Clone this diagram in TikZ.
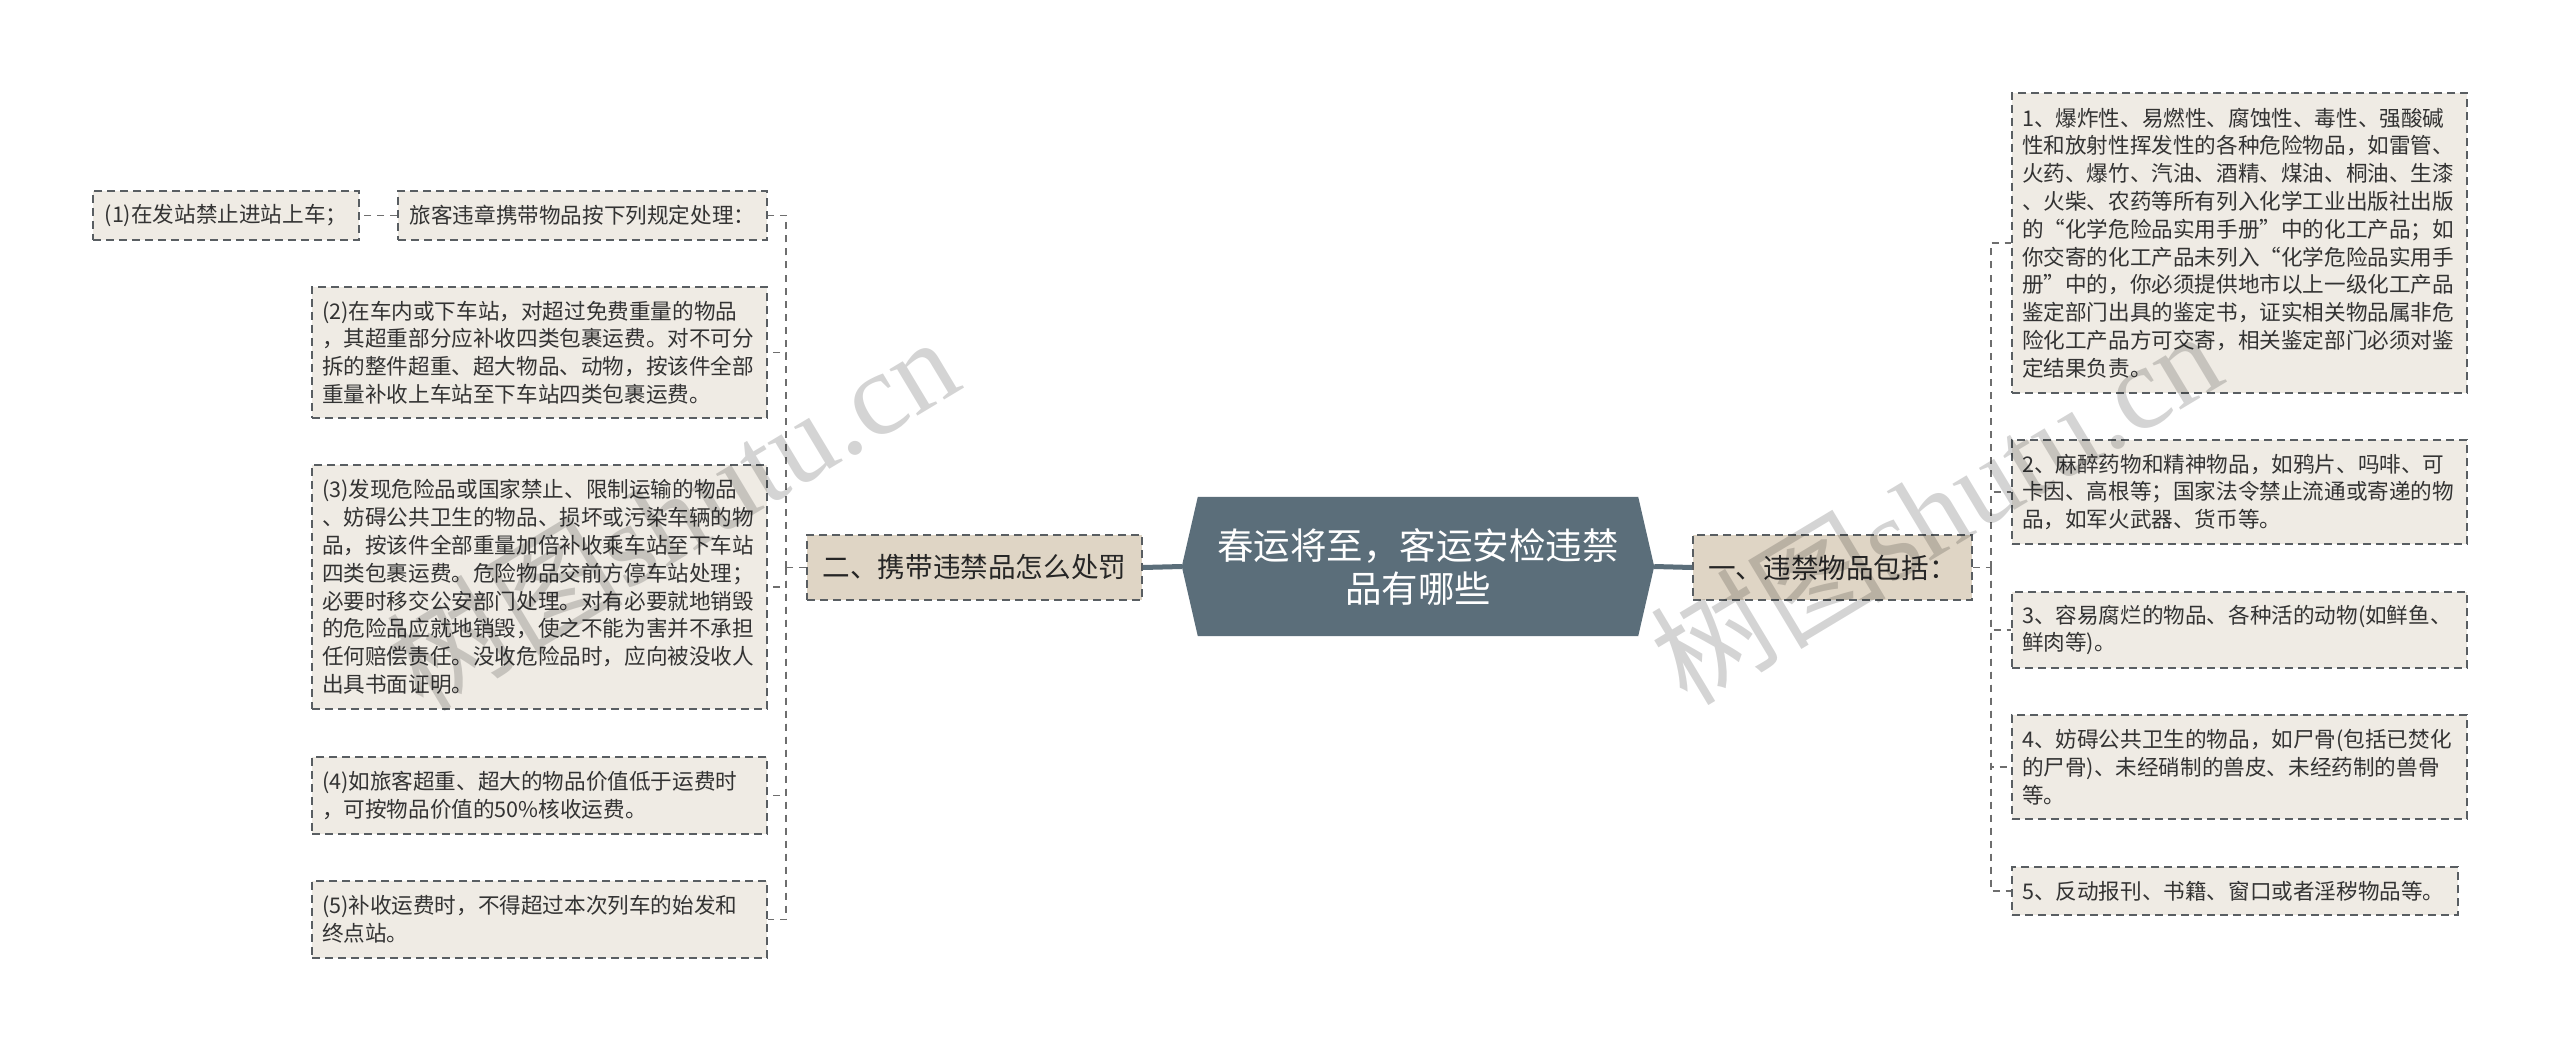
\documentclass[tikz,border=0pt]{standalone}
\usepackage{fontspec}
\setmainfont{Noto Sans CJK SC}
\newfontfamily\cjkfam{Noto Sans CJK SC}
\newfontfamily\wmlatin{Liberation Serif}
\usetikzlibrary{backgrounds}
\definecolor{leaffill}{HTML}{EFEBE4}
\definecolor{branchfill}{HTML}{DFD5C5}
\definecolor{centerfill}{HTML}{5B6E7A}
\definecolor{borderc}{HTML}{595E62}
\definecolor{connc}{HTML}{6E6E6E}
\definecolor{textc}{HTML}{333333}
\newcommand\leaffont{\cjkfam\fontsize{21.6}{27.8}\selectfont}
\newcommand\branchfont{\cjkfam\fontsize{27.6}{32}\selectfont}
\newcommand\centerfont{\cjkfam\fontsize{36.5}{43}\selectfont}
\newcommand\wmfont{\cjkfam\fontsize{118}{118}\selectfont}
\begin{document}
\begin{tikzpicture}[x=1pt,y=-1pt,
  leafbox/.style={draw=borderc, fill=leaffill, line width=1.8pt, dash pattern=on 8pt off 5pt,
    text=textc, font=\leaffont, inner xsep=10pt, inner ysep=0pt},
  leafpara/.style={leafbox, align=left, text width=#1},
  branchbox/.style={draw=borderc, fill=branchfill, line width=1.8pt, dash pattern=on 8pt off 5pt,
    text=black!85, font=\branchfont, inner sep=0pt, minimum height=65pt},
  conn/.style={draw=connc, line width=1.6pt, dash pattern=on 7pt off 6pt},
  mainline/.style={draw=centerfill, line width=5pt},
  wm/.style={text=black, opacity=0.17, font=\wmfont, inner sep=0pt, rotate=31}
]
\path[use as bounding box] (0,0) rectangle (2560,1051);

% centre
\node[minimum width=472pt, minimum height=139pt, inner sep=0pt, align=center,
      text=white, font=\centerfont] (c) at (1418,566.5) {春运将至，客运安检违禁\\品有哪些};
\begin{scope}[on background layer]
\fill[white] (0,0) rectangle (2560,1051);
\fill[centerfill] ([xshift=16pt]c.north west) -- ([xshift=-16pt]c.north east) -- (c.east)
  -- ([xshift=-16pt]c.south east) -- ([xshift=16pt]c.south west) -- (c.west) -- cycle;
\end{scope}

% branches
\node[branchbox, minimum width=335pt] (lb) at (974.5,567.5) {二、携带违禁品怎么处罚};
\node[branchbox, minimum width=279pt] (rb) at (1832.5,567.5) {一、违禁物品包括：};

% left leaves
\node[leafbox, minimum width=266pt, minimum height=49pt] (l1) at (226,215.5) {(1)在发站禁止进站上车；};
\node[leafbox, minimum width=369pt, minimum height=49pt] (lk) at (582.5,215.5) {旅客违章携带物品按下列规定处理：};
\node[leafpara=435pt, minimum height=131pt] (l2) at (539.5,352.5) {(2)在车内或下车站，对超过免费重量的物品\\，其超重部分应补收四类包裹运费。对不可分\\拆的整件超重、超大物品、动物，按该件全部\\重量补收上车站至下车站四类包裹运费。};
\node[leafpara=435pt, minimum height=244pt] (l3) at (539.5,587) {(3)发现危险品或国家禁止、限制运输的物品\\、妨碍公共卫生的物品、损坏或污染车辆的物\\品，按该件全部重量加倍补收乘车站至下车站\\四类包裹运费。危险物品交前方停车站处理；\\必要时移交公安部门处理。对有必要就地销毁\\的危险品应就地销毁，使之不能为害并不承担\\任何赔偿责任。没收危险品时，应向被没收人\\出具书面证明。};
\node[leafpara=435pt, minimum height=77pt] (l4) at (539.5,795.5) {(4)如旅客超重、超大的物品价值低于运费时\\，可按物品价值的50\%核收运费。};
\node[leafpara=435pt, minimum height=77pt] (l5) at (539.5,919.5) {(5)补收运费时，不得超过本次列车的始发和\\终点站。};

% right leaves
\node[leafpara=435pt, minimum height=300pt] (r1) at (2239.5,243) {1、爆炸性、易燃性、腐蚀性、毒性、强酸碱\\性和放射性挥发性的各种危险物品，如雷管、\\火药、爆竹、汽油、酒精、煤油、桐油、生漆\\、火柴、农药等所有列入化学工业出版社出版\\的“化学危险品实用手册”中的化工产品；如\\你交寄的化工产品未列入“化学危险品实用手\\册”中的，你必须提供地市以上一级化工产品\\鉴定部门出具的鉴定书，证实相关物品属非危\\险化工产品方可交寄，相关鉴定部门必须对鉴\\定结果负责。};
\node[leafpara=435pt, minimum height=104pt] (r2) at (2239.5,492) {2、麻醉药物和精神物品，如鸦片、吗啡、可\\卡因、高根等；国家法令禁止流通或寄递的物\\品，如军火武器、货币等。};
\node[leafpara=435pt, minimum height=76pt] (r3) at (2239.5,630) {3、容易腐烂的物品、各种活的动物(如鲜鱼、\\鲜肉等)。};
\node[leafpara=435pt, minimum height=104pt] (r4) at (2239.5,767) {4、妨碍公共卫生的物品，如尸骨(包括已焚化\\的尸骨)、未经硝制的兽皮、未经药制的兽骨\\等。};
\node[leafpara=426pt, minimum height=48pt] (r5) at (2235,891) {5、反动报刊、书籍、窗口或者淫秽物品等。};

% main connectors
\draw[mainline] (c.west) -- (lb.east);
\draw[mainline] (c.east) -- (rb.west);

% left tree
\coordinate (ls) at (786,567.5);
\draw[conn] (lb.west) -- (ls);
\draw[conn] (ls) |- (lk.east);
\draw[conn] (ls) |- (l2.east);
\draw[conn] (ls) |- (l3.east);
\draw[conn] (ls) |- (l4.east);
\draw[conn] (ls) |- (l5.east);
\draw[conn] (lk.west) -- (l1.east);

% right tree
\coordinate (rs) at (1991,567.5);
\draw[conn] (rb.east) -- (rs);
\draw[conn] (rs) |- (r1.west);
\draw[conn] (rs) |- (r2.west);
\draw[conn] (rs) |- (r3.west);
\draw[conn] (rs) |- (r4.west);
\draw[conn] (rs) |- (r5.west);

% watermarks
\node[wm] (wm1) at (672,512) {树图{\wmlatin shutu.cn}};
\node[wm] (wm2) at (1935,506) {树图{\wmlatin shutu.cn}};
\end{tikzpicture}
\end{document}
